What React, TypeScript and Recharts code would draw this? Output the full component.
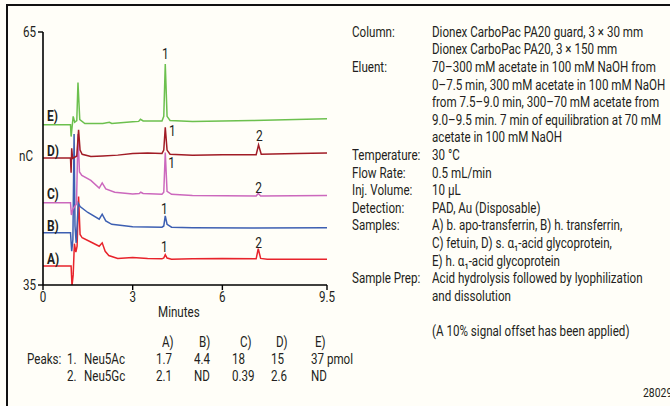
import React from 'react';
import { LineChart, Line, XAxis, YAxis, ReferenceDot } from 'recharts';

// chromatogram traces, time in min / response in nC (10% offset already in the values)
const traceA = [
  [0, 37.25], [0.94, 37.25], [0.97, 34.9], [1.01, 36.2], [1.05, 39.9], [1.1, 38.9], [1.14, 39.6],
  [1.19, 45.5], [1.24, 41.0], [1.31, 40.6], [1.6, 40.1], [1.88, 39.6], [1.98, 40.0], [2.08, 39.0],
  [2.2, 38.5], [2.5, 38.15], [3.0, 38.25], [3.5, 38.15], [3.98, 38.1], [4.04, 38.2], [4.09, 38.6],
  [4.15, 38.2], [4.3, 38.05], [5.0, 38.1], [6.0, 38.15], [7.13, 38.1], [7.2, 39.3], [7.28, 38.15],
  [7.5, 38.05], [8.5, 38.05], [9.5, 38.05],
];
const traceB = [
  [0, 41.2], [0.92, 41.2], [0.96, 39.0], [1.0, 40.4], [1.04, 52.9], [1.07, 42.0], [1.11, 40.0],
  [1.18, 44.7], [1.24, 44.3], [1.5, 43.6], [1.88, 42.8], [1.98, 43.4], [2.1, 42.6], [2.3, 42.2],
  [3.0, 41.9], [3.98, 41.85], [4.04, 42.0], [4.09, 43.2], [4.15, 42.2], [4.3, 41.85], [5.0, 41.8],
  [7.0, 41.75], [9.5, 41.8],
];
const traceC = [
  [0, 44.75], [0.92, 44.75], [0.95, 43.3], [1.0, 44.0], [1.12, 44.6], [1.17, 52.9], [1.22, 48.4],
  [1.3, 48.0], [1.6, 47.4], [1.88, 46.5], [1.98, 47.1], [2.1, 46.4], [2.4, 46.0], [3.0, 45.8],
  [3.22, 45.85], [3.27, 46.0], [3.35, 45.85], [3.98, 45.75], [4.04, 46.0], [4.09, 50.7], [4.15, 46.1],
  [4.3, 45.75], [5.0, 45.6], [7.13, 45.55], [7.2, 45.85], [7.28, 45.55], [9.5, 45.6],
];
const traceD = [
  [0, 50.05], [0.92, 50.05], [0.94, 48.3], [0.96, 51.2], [0.99, 50.0], [1.13, 50.3], [1.19, 53.4],
  [1.24, 51.0], [1.31, 50.5], [1.6, 50.25], [2.0, 50.3], [2.5, 50.4], [3.0, 50.6], [3.5, 50.65],
  [3.98, 50.6], [4.04, 51.0], [4.09, 53.7], [4.15, 51.0], [4.25, 50.5], [5.0, 50.4], [6.0, 50.45],
  [7.13, 50.45], [7.21, 51.6], [7.3, 50.5], [8.5, 50.6], [9.5, 50.65],
];
const traceE = [
  [0, 54.0], [0.92, 54.0], [0.94, 52.6], [1.01, 55.0], [1.06, 54.3], [1.13, 54.5], [1.17, 59.0],
  [1.23, 54.6], [1.4, 54.15], [2.0, 54.15], [2.22, 54.3], [2.3, 54.15], [3.0, 54.35], [3.2, 54.4],
  [3.26, 54.65], [3.35, 54.45], [3.98, 54.45], [4.04, 55.0], [4.09, 61.2], [4.15, 55.0], [4.25, 54.5],
  [5.0, 54.4], [7.0, 54.5], [9.5, 54.7],
];

const xTicks = [0, 3, 6, 9.5];
const yTicks = [35, 65];

// peak numbers: [time, nC, text]
const peakLabels = [
  [4.09, 62.4, '1'], [4.33, 53.3, '1'], [4.3, 49.5, '1'], [4.06, 44.1, '1'], [4.06, 39.6, '1'],
  [7.24, 52.7, '2'], [7.21, 46.6, '2'], [7.21, 40.0, '2'],
];
// trace tags: [nC, text]
const traceTags = [[55.05, 'E)'], [50.9, 'D)'], [45.8, 'C)'], [42.1, 'B)'], [38.2, 'A)']];

const tableHead = ['A)', 'B)', 'C)', 'D)', 'E)'];
const neu5Ac = ['1.7', '4.4', '18', '15', '37 pmol'];
const neu5Gc = ['2.1', 'ND', '0.39', '2.6', 'ND'];

const conditions = [
  ['Column:', 'Dionex CarboPac PA20 guard, 3 \u00d7 30 mm'],
  ['', 'Dionex CarboPac PA20, 3 \u00d7 150 mm'],
  ['Eluent:', '70\u2013300 mM acetate in 100 mM NaOH from'],
  ['', '0\u20137.5 min, 300 mM acetate in 100 mM NaOH'],
  ['', 'from 7.5\u20139.0 min, 300\u201370 mM acetate from'],
  ['', '9.0\u20139.5 min. 7 min of equilibration at 70 mM'],
  ['', 'acetate in 100 mM NaOH'],
  ['Temperature:', '30 \u00b0C'],
  ['Flow Rate:', '0.5 mL/min'],
  ['Inj. Volume:', '10 \u00b5L'],
  ['Detection:', 'PAD, Au (Disposable)'],
  ['Samples:', 'A) b. apo-transferrin, B) h. transferrin,'],
  ['', 'C) fetuin, D) s. \u03b1\u2081-acid glycoprotein,'],
  ['', 'E) h. \u03b1\u2081-acid glycoprotein'],
  ['Sample Prep:', 'Acid hydrolysis followed by lyophilization'],
  ['', 'and dissolution'],
  ['', ''],
  ['', '(A 10% signal offset has been applied)'],
];

const traces = [
  { key: 'A', pts: traceA, color: '#e8232b' },
  { key: 'B', pts: traceB, color: '#3d5fb2' },
  { key: 'C', pts: traceC, color: '#cc68bd' },
  { key: 'D', pts: traceD, color: '#a11c26' },
  { key: 'E', pts: traceE, color: '#6cc04e' },
];

const FONT = 'Roboto, Arial, sans-serif';
const INK = '#231f20';
const SQ = 0.8; // horizontal squeeze to mimic the condensed face

const txt = (left: number, cy: number, s: string, extra: React.CSSProperties = {}) => (
  <div
    key={`${left}-${cy}-${s}`}
    style={{
      position: 'absolute', left, top: cy - 9, lineHeight: '18px', whiteSpace: 'nowrap',
      transform: `scaleX(${SQ})`, transformOrigin: '0 50%', ...extra,
    }}
  >
    {s}
  </div>
);

const makeTick = (dy: string) => (p: any) => (
  <g transform={`translate(${p.x},${p.y})`}>
    <text x={0} y={0} dy={dy} textAnchor={p.textAnchor} fill={INK} fontSize={14.5} fontFamily={FONT} transform={`scale(${SQ},1)`}>
      {p.payload.value}
    </text>
  </g>
);

const svgText = (s: string, anchor: string, weight: string, size: number) => (p: any) => (
  <g transform={`translate(${p.cx},${p.cy})`}>
    <text x={0} y={0} textAnchor={anchor as any} dominantBaseline="central" fill={INK} fontSize={size} fontWeight={weight} fontFamily={FONT} transform={`scale(${SQ},1)`}>
      {s}
    </text>
  </g>
);

export default function App() {
  const valueCols = [156, 194, 232, 271, 311];
  const headCols = [162, 199, 240, 276, 315];
  return (
    <div
      style={{
        position: 'absolute', left: 0, top: 0, width: 670, height: 406, overflow: 'hidden',
        background: '#fffef8', fontFamily: FONT, fontSize: 14.5, color: INK,
      }}
    >
      <div style={{ position: 'absolute', left: 6, top: 4, width: 700, height: 430, borderTop: '2px solid #111', borderLeft: '2px solid #111' }} />
      <div style={{ position: 'absolute', left: 0, top: 0 }}>
        <LineChart width={670} height={406} margin={{ top: 32, right: 343, bottom: 91, left: 8 }}>
          <XAxis
            type="number" dataKey="t" domain={[0, 9.5]} ticks={xTicks} height={30}
            axisLine={{ stroke: '#000', strokeWidth: 1.6 }} tickLine={{ stroke: '#000', strokeWidth: 1.4 }}
            tick={makeTick('0.71em')} tickSize={5}
          />
          <YAxis
            type="number" domain={[35, 65]} ticks={yTicks} width={35} allowDataOverflow
            axisLine={{ stroke: '#000', strokeWidth: 1.6 }} tickLine={{ stroke: '#000', strokeWidth: 1.4 }}
            tick={makeTick('0.355em')} tickSize={5}
          />
          {traces.map((tr) => (
            <Line
              key={tr.key}
              data={tr.pts.map(([t, v]) => ({ t, v }))}
              dataKey="v" type="linear" stroke={tr.color} strokeWidth={1.5}
              dot={false} activeDot={false} isAnimationActive={false}
            />
          ))}
          {peakLabels.map(([t, v, s], i) => (
            <ReferenceDot key={`p${i}`} x={t as number} y={v as number} r={0} shape={svgText(s as string, 'middle', 'normal', 15)} />
          ))}
          {traceTags.map(([v, s], i) => (
            <ReferenceDot key={`g${i}`} x={0.13} y={v as number} r={0} shape={svgText(s as string, 'start', 'bold', 15)} />
          ))}
        </LineChart>
      </div>

      {txt(19, 157, 'nC')}
      {txt(158, 313, 'Minutes')}

      {tableHead.map((h, i) => txt(headCols[i], 343, h))}
      {txt(27, 360, 'Peaks:')}
      {txt(67, 360, '1.')}
      {txt(84, 360, 'Neu5Ac')}
      {neu5Ac.map((v, i) => txt(valueCols[i], 360, v))}
      {txt(67, 377, '2.')}
      {txt(84, 377, 'Neu5Gc')}
      {neu5Gc.map((v, i) => txt(valueCols[i], 377, v))}

      {conditions.map(([label, value], i) => (
        <React.Fragment key={i}>
          {label && txt(352, 32.8 + i * 17.6, label)}
          {value && txt(432, 32.8 + i * 17.6, value)}
        </React.Fragment>
      ))}

      {txt(643, 393, '28029', { fontSize: 13 })}
    </div>
  );
}
